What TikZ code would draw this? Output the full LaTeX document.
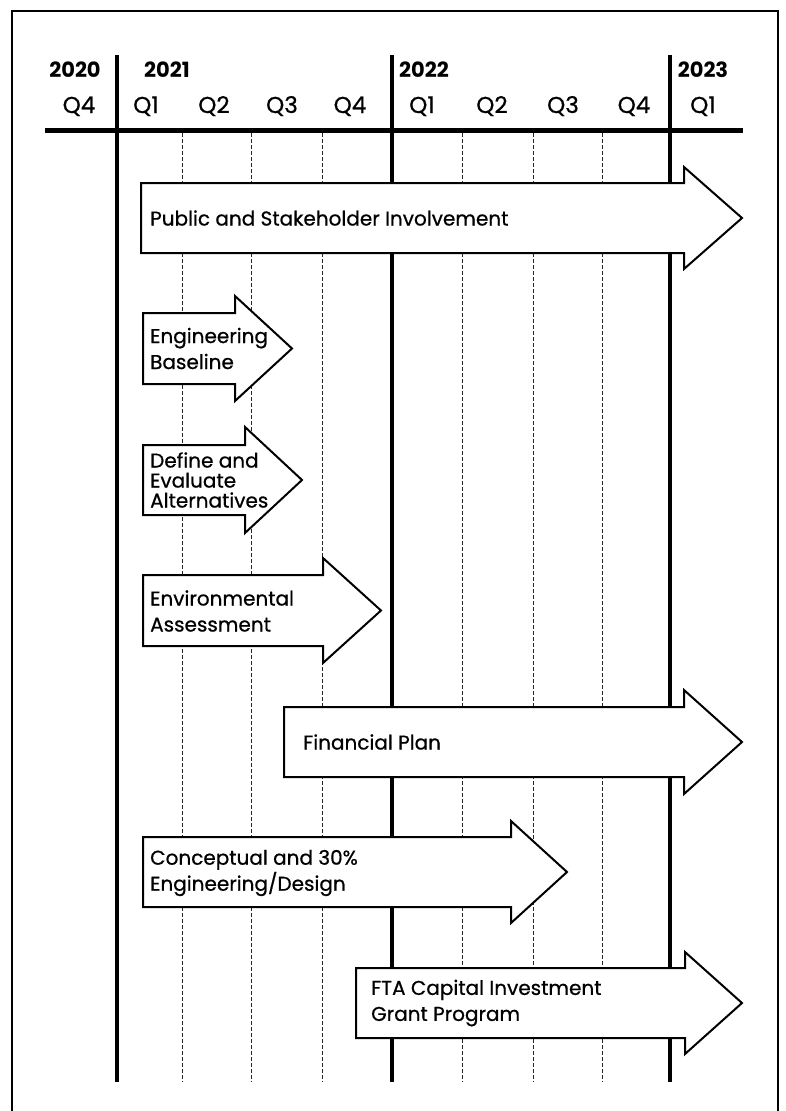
\documentclass[tikz,border=0pt]{standalone}
\usepackage{fontspec}
\setmainfont{Poppins}
\newfontfamily\lblfamily{Poppins}[FakeBold=0.7]
\newcommand\blockarr[6]{% x1, ytop, ybot, xhead, flange, xtip
  \draw[barrow] (#1,#2) -- (#4,#2) -- (#4,#2-#5) -- (#6,{(#2+#3)/2}) -- (#4,#3+#5) -- (#4,#3) -- (#1,#3) -- cycle;}
\begin{document}
\begin{tikzpicture}[x=1pt,y=-1pt,
  frame/.style={line width=1.5pt},
  yearline/.style={line width=4pt},
  qline/.style={line width=0.9pt, dash pattern=on 4pt off 2pt, black!85},
  barrow/.style={draw=black, fill=white, line width=2pt, line join=miter},
  lbl/.style={inner sep=0pt, anchor=west, align=left, font=\lblfamily\fontsize{20}{26}\selectfont},
  yr/.style={inner sep=0pt, anchor=base, font=\bfseries\fontsize{21}{26}\selectfont},
  qtr/.style={inner sep=0pt, anchor=base, font=\lblfamily\fontsize{23}{26}\selectfont}]
\useasboundingbox (0,0) rectangle (786,1111);
% frame
\draw[frame] (12,1111) -- (12,11) -- (778,11) -- (778,1111);
% quarter lines
\foreach \x in {182,251,322,462,533,602} \draw[qline] (\x,133) -- (\x,1082);
% year lines
\foreach \x in {117,392,670} \draw[yearline] (\x,55) -- (\x,1082);
\draw[line width=4.5pt] (45,130.5) -- (743,130.5);
% header
\node[yr] (y2020) at (75,77) {2020};
\node[yr] (y2021) at (167,77) {2021};
\node[yr] (y2022) at (424,77) {2022};
\node[yr] (y2023) at (703,77) {2023};
\node[qtr] (q0) at (79,113) {Q4};
\node[qtr] (q1) at (146,113) {Q1};
\node[qtr] (q2) at (214,113) {Q2};
\node[qtr] (q3) at (282,113) {Q3};
\node[qtr] (q4) at (350,113) {Q4};
\node[qtr] (q5) at (422,113) {Q1};
\node[qtr] (q6) at (492,113) {Q2};
\node[qtr] (q7) at (563,113) {Q3};
\node[qtr] (q8) at (634,113) {Q4};
\node[qtr] (q9) at (703,113) {Q1};
% arrows
\blockarr{141}{183}{253}{684}{16}{742}
\blockarr{143}{313}{384}{235}{17}{292}
\blockarr{143}{445}{515}{245}{18}{302}
\blockarr{143}{575}{646}{323}{17}{381}
\blockarr{284}{707}{777}{684}{17}{742}
\blockarr{143}{837}{907}{511}{16}{567}
\blockarr{356}{968}{1038}{685}{16}{742}
% labels
\node[lbl] (pub) at (150,218) {Public and Stakeholder Involvement};
\node[lbl] (eng) at (150,348.5) {Engineering\\Baseline};
\node[lbl, font=\lblfamily\fontsize{20}{20}\selectfont] (def) at (150,480) {Define and\\Evaluate\\Alternatives};
\node[lbl] (env) at (150,611) {Environmental\\Assessment};
\node[lbl] (fin) at (303,742) {Financial Plan};
\node[lbl] (con) at (150,873) {Conceptual and 30\%\\Engineering/Design};
\node[lbl] (fta) at (371,1003) {FTA Capital Investment\\Grant Program};
\end{tikzpicture}
\end{document}
